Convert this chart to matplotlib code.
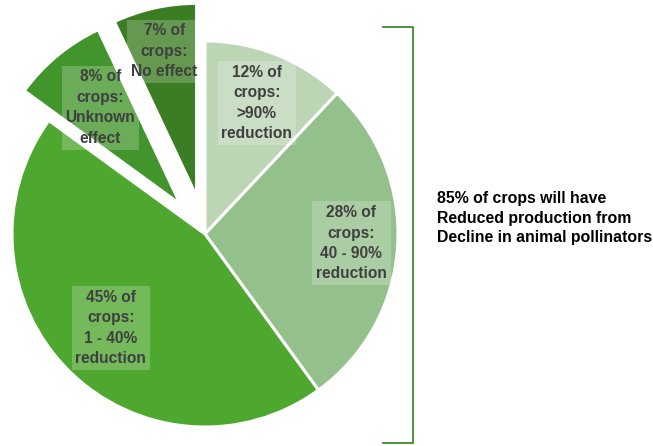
import numpy as np
import matplotlib
matplotlib.use('Agg')
import matplotlib.pyplot as plt
from matplotlib.lines import Line2D

W, H = 653, 446

# crop shares, clockwise from 12 o'clock
shares = [12, 28, 45, 8, 7]
labels = [
    "12% of\ncrops:\n>90%\nreduction",
    "28% of\ncrops:\n40 - 90%\nreduction",
    "45% of\ncrops:\n1 - 40%\nreduction",
    "8% of\ncrops:\nUnknown\neffect",
    "7% of\ncrops:\nNo effect",
]
colors = ['#bcd6b5', '#94c08b', '#4ea72e', '#41952a', '#3a7d22']
explode = [0, 0, 0, 0.2, 0.2]
label_r = [0.73, 0.76, 0.69, 0.65, 0.77]
summary = "85% of crops will have\nReduced production from\nDecline in animal pollinators"

# pie centre / radius in pixels
CX, CY, R = 205, 234, 193

fig = plt.figure(figsize=(W / 100, H / 100), dpi=100)
ax = fig.add_axes([0, 0, 1, 1])
ax.axis('off')

wedges, _ = ax.pie(shares, colors=colors, explode=explode, startangle=90,
                   counterclock=False, radius=1,
                   wedgeprops=dict(edgecolor='white', linewidth=2.2))
ax.set_xlim(-CX / R, (W - CX) / R)
ax.set_ylim(-(H - CY) / R, CY / R)

for w, lab, rr in zip(wedges, labels, label_r):
    ang = np.deg2rad((w.theta1 + w.theta2) / 2)
    cx, cy = w.center
    ax.text(cx + rr * np.cos(ang), cy + rr * np.sin(ang), lab,
            ha='center', va='center', fontsize=11.2, fontweight='bold',
            family='Liberation Sans', color='#3f3f3f', linespacing=1.45,
            bbox=dict(boxstyle='square,pad=0.25', fc='white', alpha=0.22, ec='none'))

# bracket spanning the reduced-production slices
bx0, bx1, by0, by1 = 383, 413, 27, 443
fig.add_artist(Line2D([bx0 / W, bx1 / W, bx1 / W, bx0 / W],
                      [1 - by0 / H, 1 - by0 / H, 1 - by1 / H, 1 - by1 / H],
                      color='#3d8b2a', lw=1.3, solid_joinstyle='round'))

fig.text(437 / W, 1 - 218 / H, summary, ha='left', va='center',
         fontsize=11.4, fontweight='bold', family='Liberation Sans',
         color='black', linespacing=1.4)

fig.savefig('out.png', dpi=100)
